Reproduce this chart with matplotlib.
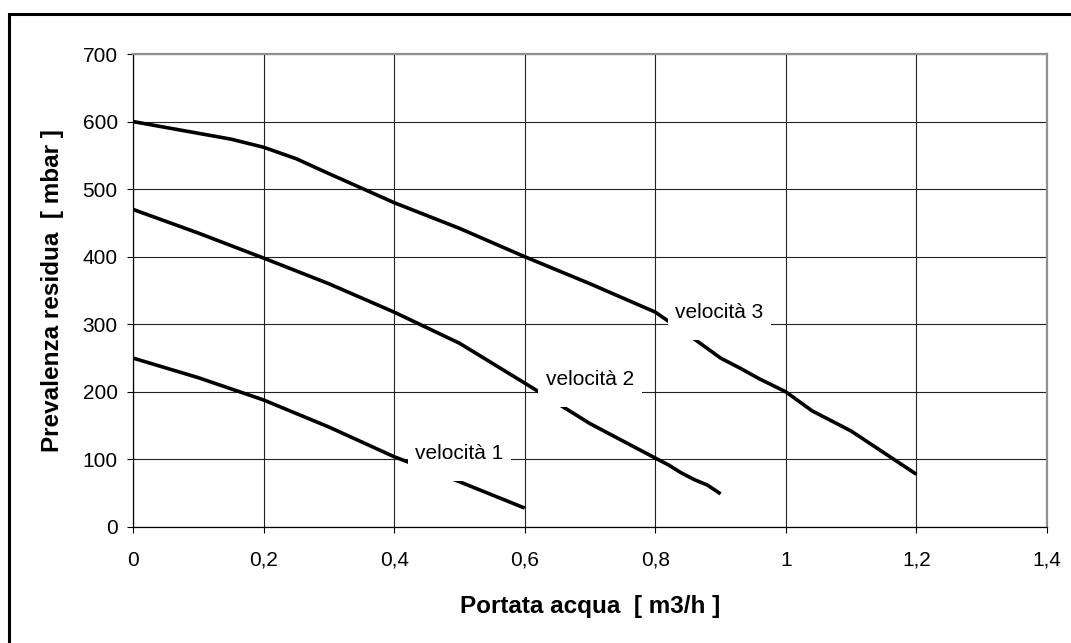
import matplotlib
matplotlib.use("Agg")
import matplotlib.pyplot as plt
from matplotlib.patches import Rectangle

plt.rcParams['font.family'] = ['Liberation Sans', 'DejaVu Sans']

# Curve di prevalenza (portata m3/h, prevalenza mbar)
x1 = [0, 0.1, 0.2, 0.3, 0.4, 0.5, 0.6]
y1 = [250, 221, 188, 148, 104, 67, 28]

x2 = [0, 0.1, 0.2, 0.3, 0.4, 0.5, 0.6, 0.7, 0.8, 0.82, 0.84, 0.86, 0.88, 0.9]
y2 = [470, 435, 398, 360, 318, 272, 213, 153, 102, 92, 80, 70, 62, 49]

x3 = [0, 0.15, 0.2, 0.25, 0.3, 0.4, 0.5, 0.6, 0.7, 0.8, 0.86, 0.9, 0.93, 0.96,
      1.0, 1.04, 1.1, 1.2]
y3 = [600, 574, 562, 545, 523, 480, 442, 400, 360, 318, 278, 250, 235, 219,
      200, 172, 142, 78]

series_names = ["velocità 1", "velocità 2", "velocità 3"]

xticks = [0, 0.2, 0.4, 0.6, 0.8, 1.0, 1.2, 1.4]
xtick_labels = ["0", "0,2", "0,4", "0,6", "0,8", "1", "1,2", "1,4"]
yticks = [0, 100, 200, 300, 400, 500, 600, 700]

# etichette: centro del testo (posizione sul grafico)
label_pos = [(0.50, 109), (0.70, 219), (0.898, 318)]
box_w, box_h = 0.158, 82

fig = plt.figure(figsize=(10.71, 6.43), dpi=100)
ax = fig.add_axes([133 / 1071, 116 / 643, 914 / 1071, 473 / 643])

# cornice esterna
fig.patches.append(Rectangle((9 / 1071, -0.2), 1.2, 1.2 - 14 / 643 + 0.0,
                             transform=fig.transFigure, fill=False,
                             edgecolor='black', linewidth=2.2, zorder=0))

for xs, ys in [(x1, y1), (x2, y2), (x3, y3)]:
    ax.plot(xs, ys, color='black', linewidth=2.6, zorder=3,
            solid_joinstyle='round', solid_capstyle='butt')

for name, (cx, cy) in zip(series_names, label_pos):
    ax.add_patch(Rectangle((cx - box_w / 2, cy - box_h / 2), box_w, box_h,
                           facecolor='white', edgecolor='none', zorder=4))
    ax.text(cx, cy, name, ha='center', va='center', fontsize=15, zorder=5)

ax.set_xlim(0, 1.4)
ax.set_ylim(0, 700)
ax.set_xticks(xticks)
ax.set_xticklabels(xtick_labels)
ax.set_yticks(yticks)
ax.grid(True, color='#222222', linewidth=0.8, zorder=1)
ax.set_axisbelow(True)

ax.tick_params(axis='both', direction='out', length=4, width=0.8,
               labelsize=15, color='black')
ax.tick_params(axis='x', pad=13)
ax.tick_params(axis='y', pad=7)

for side in ['left', 'bottom']:
    ax.spines[side].set_color('black')
    ax.spines[side].set_linewidth(0.9)
for side in ['top', 'right']:
    ax.spines[side].set_color('#909090')
    ax.spines[side].set_linewidth(1.6)

ax.set_xlabel("Portata acqua  [ m3/h ]", fontsize=17.5, fontweight='bold')
ax.set_ylabel("Prevalenza residua  [ mbar ]", fontsize=17.5, fontweight='bold')
ax.xaxis.set_label_coords(0.5, -0.169)
ax.xaxis.label.set_va('center')
ax.yaxis.set_label_coords(-0.0886, 0.5)
ax.yaxis.label.set_va('center')

fig.savefig("out.png", dpi=100)
